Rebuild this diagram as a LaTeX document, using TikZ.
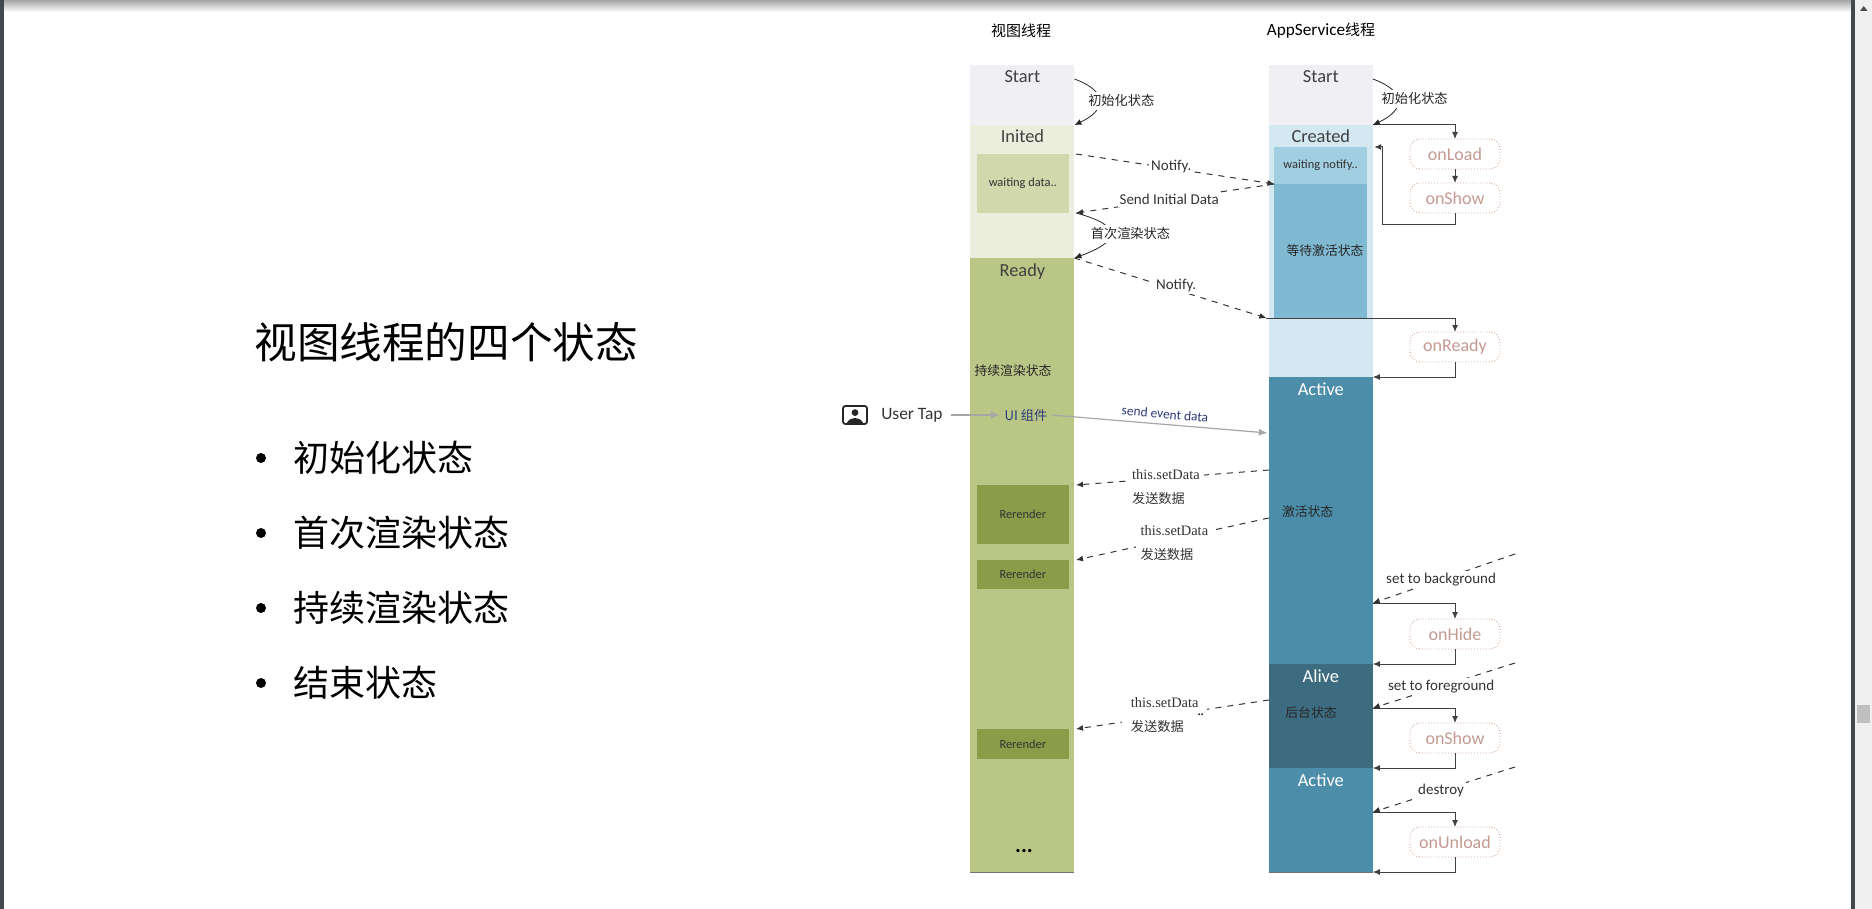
\documentclass[tikz,border=0pt]{standalone}
\usepackage{fontspec}
\setmainfont{Carlito}
\newfontfamily\cjk{Noto Sans CJK SC}
\newfontfamily\serifl{Liberation Serif}
\usepackage{xcolor}
\usetikzlibrary{arrows.meta,positioning}
\definecolor{cStart}{HTML}{EFEFF4}
\definecolor{cInited}{HTML}{EBEEDD}
\definecolor{cData}{HTML}{D0D8AC}
\definecolor{cReady}{HTML}{B9C685}
\definecolor{cRender}{HTML}{8A9C48}
\definecolor{cCreated}{HTML}{D3E8F1}
\definecolor{cNotify}{HTML}{A1CEE0}
\definecolor{cWait}{HTML}{80B9D2}
\definecolor{cActive}{HTML}{4C8DAA}
\definecolor{cAlive}{HTML}{3D6C80}
\definecolor{cHook}{HTML}{D3A48E}
\definecolor{cHookText}{HTML}{C49A92}
\definecolor{cChrome}{HTML}{42484B}
\definecolor{cEvent}{HTML}{2C3A7A}
\begin{document}
\begin{tikzpicture}[
        x=0.5pt, y=-0.5pt,
        node distance=0pt,
        col/.style={inner sep=0pt, outer sep=0pt, minimum width=52pt},
        inbox/.style={inner sep=0pt, outer sep=0pt, minimum width=46.2pt, font=\fontsize{6.2}{7}\selectfont, text=black!80},
        hook/.style={draw=cHook, densely dotted, line width=0.45pt, rounded corners=5pt, fill=white, inner sep=0pt, outer sep=0pt,
                     minimum width=45pt, minimum height=15pt, text=cHookText, font=\fontsize{9}{11}\selectfont},
        statetxt/.style={inner sep=0pt, font=\fontsize{9.2}{10}\selectfont, text=black!75},
        cjktxt/.style={inner sep=0pt, font=\cjk\fontsize{7.5}{9}\selectfont},
        statecjk/.style={inner sep=0pt, font=\cjk\fontsize{6.4}{8}\selectfont, text=black!85},
        curvelbl/.style={fill=white, inner sep=1.5pt, font=\cjk\fontsize{6.6}{8}\selectfont},
        lbl/.style={fill=white, inner sep=1pt, font=\fontsize{7.5}{9}\selectfont, text=black!80},
        setlbl/.style={fill=white, inner xsep=2pt, inner ysep=1pt, align=left, font=\serifl\fontsize{7.2}{12}\selectfont, text=black!80},
        arr/.style={-{Latex[length=3.5pt,width=3pt]}, line width=0.5pt, black!75},
        thinarr/.style={-{Latex[length=3.5pt,width=3pt]}, line width=0.4pt, black!85},
        dasharr/.style={-{Latex[length=3.5pt,width=3pt]}, line width=0.5pt, black!80, dashed},
        grayarr/.style={-{Latex[length=4.5pt,width=3.5pt]}, line width=0.6pt, black!35},
    ]
        \useasboundingbox (0,0) rectangle (1872,909);

        % window frame
        \shade[top color=black!35, bottom color=white] (4,0) rectangle (1851,12);
        \fill[cChrome] (0,0) rectangle (4,909);
        \fill[cChrome] (1851,0) rectangle (1855,909);
        \fill[black!6] (1855,0) rectangle (1872,909);
        \fill[black!25] (1857,705) rectangle (1870,723);
        \fill[black!70] (1860,11) -- (1867.5,11) -- (1863.7,6) -- cycle;

        % slide text
        \node[anchor=west, inner sep=0pt, font=\cjk\fontsize{21.3}{24}\selectfont] (title) at (254,342) {视图线程的四个状态};
        \foreach \name/\ypos/\txt in {one/458/初始化状态, two/533/首次渲染状态, three/608/持续渲染状态, four/683/结束状态} {
            \node[circle, fill=black, inner sep=0pt, minimum size=5pt] (dot\name) at (261,\ypos) {};
            \node[anchor=west, inner sep=0pt, font=\cjk\fontsize{18}{20}\selectfont] (item\name) at (293,\ypos) {\txt};
        }

        % view thread
        \node[cjktxt] (vhead) at (1021,31) {视图线程};
        \node[col, anchor=north, fill=cStart, minimum height=30pt] (vstart) at (1022.4,65) {};
        \node[col, fill=cInited, minimum height=66.5pt, below=of vstart] (vinited) {};
        \node[col, fill=cReady, minimum height=307pt, below=of vinited] (vready) {};
        \draw[black!55, line width=0.4pt] (vready.south west) -- (vready.south east);
        \node[inbox, fill=cData, minimum height=29.5pt, anchor=north] (vdata) at (1022.8,154) {waiting data..};
        \node[inbox, fill=cRender, minimum height=29.5pt, anchor=north] (vrender1) at (1022.8,485) {Rerender};
        \node[inbox, fill=cRender, minimum height=14.5pt, anchor=north] (vrender2) at (1022.8,560) {Rerender};
        \node[inbox, fill=cRender, minimum height=15pt, anchor=north] (vrender3) at (1022.8,729) {Rerender};
        \node[statetxt] (vstartt) at ([yshift=-6pt]vstart.north) {Start};
        \node[statetxt] (vinitedt) at ([yshift=-5.5pt]vinited.north) {Inited};
        \node[statetxt] (vreadyt) at ([yshift=-7pt]vready.north) {Ready};
        \node[statecjk] (vkeep) at (1013,371) {持续渲染状态};
        \node[inner sep=0pt, font=\bfseries\fontsize{11}{12}\selectfont] (vmore) at (1024,851) {...};

        % appservice thread
        \node[cjktxt, font=\fontsize{8.6}{9}\selectfont] (ahead) at (1321,31) {AppService{\cjk\fontsize{7.5}{9}\selectfont 线程}};
        \node[col, anchor=north, fill=cStart, minimum height=30pt] (astart) at (1320.8,65) {};
        \node[col, fill=cCreated, minimum height=126pt, below=of astart] (acreated) {};
        \node[col, fill=cActive, minimum height=143.5pt, below=of acreated] (aactive) {};
        \node[col, fill=cAlive, minimum height=52pt, below=of aactive] (aalive) {};
        \node[col, fill=cActive, minimum height=52pt, below=of aalive] (aactiveb) {};
        \draw[black!55, line width=0.4pt] (aactiveb.south west) -- (aactiveb.south east);
        \node[inbox, fill=cNotify, minimum height=18.5pt, anchor=north] (anotify) at (1320.6,147) {waiting notify..};
        \node[inbox, fill=cWait, minimum height=67pt, below=of anotify] (await) {};
        \node[statetxt] (astartt) at ([yshift=-6pt]astart.north) {Start};
        \node[statetxt] (acreatedt) at ([yshift=-5.5pt]acreated.north) {Created};
        \node[statetxt, text=white] (aactivet) at ([yshift=-6pt]aactive.north) {Active};
        \node[statetxt, text=white] (aalivet) at ([yshift=-6pt]aalive.north) {Alive};
        \node[statetxt, text=white] (aactivebt) at ([yshift=-6pt]aactiveb.north) {Active};
        \node[statecjk] (awaitt) at (1325,251) {等待激活状态};
        \node[statecjk] (aactivez) at (1307.6,512) {激活状态};
        \node[statecjk] (aalivez) at (1311,713) {后台状态};

        % lifecycle hooks
        \node[hook, anchor=north] (onload) at (1455,139) {onLoad};
        \node[hook, anchor=north] (onshow) at (1455,183) {onShow};
        \node[hook, anchor=north] (onready) at (1455,332) {onReady};
        \node[hook, anchor=north] (onhide) at (1455,619) {onHide};
        \node[hook, anchor=north] (onshowb) at (1455,723) {onShow};
        \node[hook, anchor=north] (onunload) at (1455,827) {onUnload};

        % hook wiring
        \coordinate (cback) at ([xshift=3.7pt]anotify.north east);
        \coordinate (cready) at ([xshift=-4pt]await.south west);
        \coordinate (cbg) at ([yshift=-113pt]aactive.north east);
        \coordinate (cfg) at ([yshift=-22pt]aalive.north east);
        \coordinate (cdes) at ([yshift=-22pt]aactiveb.north east);
        \coordinate (fbg) at (1515,554);
        \coordinate (ffg) at (1515,663);
        \coordinate (fdes) at (1515,767);
        \draw[arr] (acreated.north east) -| (onload.north);
        \draw[arr] (onload) -- (onshow);
        \draw[arr] (onshow.south) -- ++(0,12) -- ++(-73,0) |- (cback);
        \draw[arr] (cready) -| (onready.north);
        \draw[arr] (onready.south) |- (aactive.north east);
        \draw[arr] (cbg) -| (onhide.north);
        \draw[arr] (onhide.south) |- (aalive.north east);
        \draw[arr] (cfg) -| (onshowb.north);
        \draw[arr] (onshowb.south) |- (aactiveb.north east);
        \draw[arr] (cdes) -| (onunload.north);
        \draw[arr] (onunload.south) |- (aactiveb.south east);

        % state changes
        \draw[thinarr] ([yshift=-7pt]vstart.north east) to[out=-20, in=25, looseness=2]
            node[curvelbl, xshift=11pt] (vinitl) {初始化状态} (vinited.north east);
        \draw[thinarr] ([yshift=-7pt]astart.north east) to[out=-20, in=25, looseness=2]
            node[curvelbl, xshift=8.5pt, yshift=1pt] (ainitl) {初始化状态} (acreated.north east);
        \draw[thinarr] ([xshift=3.5pt]vdata.south east) to[out=-15, in=20, looseness=2.8]
            node[curvelbl, xshift=10pt] (vfirstl) {首次渲染状态} (vready.north east);

        % messages
        \draw[dasharr] ([xshift=3.5pt]vdata.north east) -- node[lbl, pos=.48, yshift=1pt] (lnotify) {Notify.} (await.north west);
        \draw[dasharr] (await.north west) -- node[lbl, pos=.53] (linit) {Send Initial Data} ([xshift=3.5pt]vdata.south east);
        \draw[dasharr] (vready.north east) -- node[lbl, pos=.53, yshift=2pt] (lnotifyb) {Notify.} (cready);
        \draw[dasharr] ([yshift=-46.5pt]aactive.north west) -- node[setlbl, pos=.534, yshift=-4.75pt] (lset) {this.setData\\{\cjk\fontsize{6.6}{12}\selectfont 发送数据}} ([xshift=3.5pt]vrender1.north east);
        \draw[dasharr] ([yshift=-70.5pt]aactive.north west) -- node[setlbl, pos=.49, yshift=-2pt, inner xsep=2.2pt] (lsetb) {this.setData\\{\cjk\fontsize{6.6}{12}\selectfont 发送数据}} ([xshift=3.5pt]vrender2.north east);
        \draw[dasharr] ([yshift=-18pt]aalive.north west) -- node[setlbl, pos=.54, yshift=0.3pt, inner xsep=4.4pt] (lsetc) {this.setData\\{\cjk\fontsize{6.6}{12}\selectfont 发送数据}} ([xshift=3.5pt]vrender3.north east);
        \node[inner sep=0pt, font=\bfseries\fontsize{6}{7}\selectfont] (lstray) at (1200.7,715) {..};
        \draw[dasharr] (fbg) -- node[lbl, pos=.52] (lbg) {set to background} (cbg);
        \draw[dasharr] (ffg) -- node[lbl, pos=.52] (lfg) {set to foreground} (cfg);
        \draw[dasharr] (fdes) -- node[lbl, pos=.52] (ldes) {destroy} (cdes);

        % user tap
        \node[draw=black!85, line width=0.9pt, rounded corners=1.2pt, inner sep=0pt, minimum width=12pt, minimum height=9pt] (uicon) at (855,415) {};
        \fill[black!85] ([yshift=1.2pt]uicon.center) circle (1.7pt);
        \fill[black!85] ([xshift=-4.2pt]uicon.south) arc[start angle=180, end angle=0, x radius=4.2pt, y radius=3.4pt] -- cycle;
        \node[right=6.5pt of uicon, inner sep=0pt, font=\fontsize{8.7}{10}\selectfont, text=black!80] (utap) {User Tap};
        \node[inner sep=0pt, font=\cjk\fontsize{6.6}{8}\selectfont, text=cEvent] (uicomp) at (1026,415) {UI 组件};
        \draw[grayarr, line width=0.9pt] ([xshift=4pt]utap.east) -- ([xshift=-2pt]uicomp.west |- utap.east);
        \coordinate (cevent) at ([yshift=-28pt,xshift=-0.5pt]aactive.north west);
        \draw[grayarr] ([xshift=2pt]uicomp.east) -- (cevent);
        \node[inner sep=0pt, rotate=-5, font=\fontsize{6.7}{8}\selectfont, text=cEvent] (levent) at (1165,414) {send event data};
    \end{tikzpicture}
\end{document}
